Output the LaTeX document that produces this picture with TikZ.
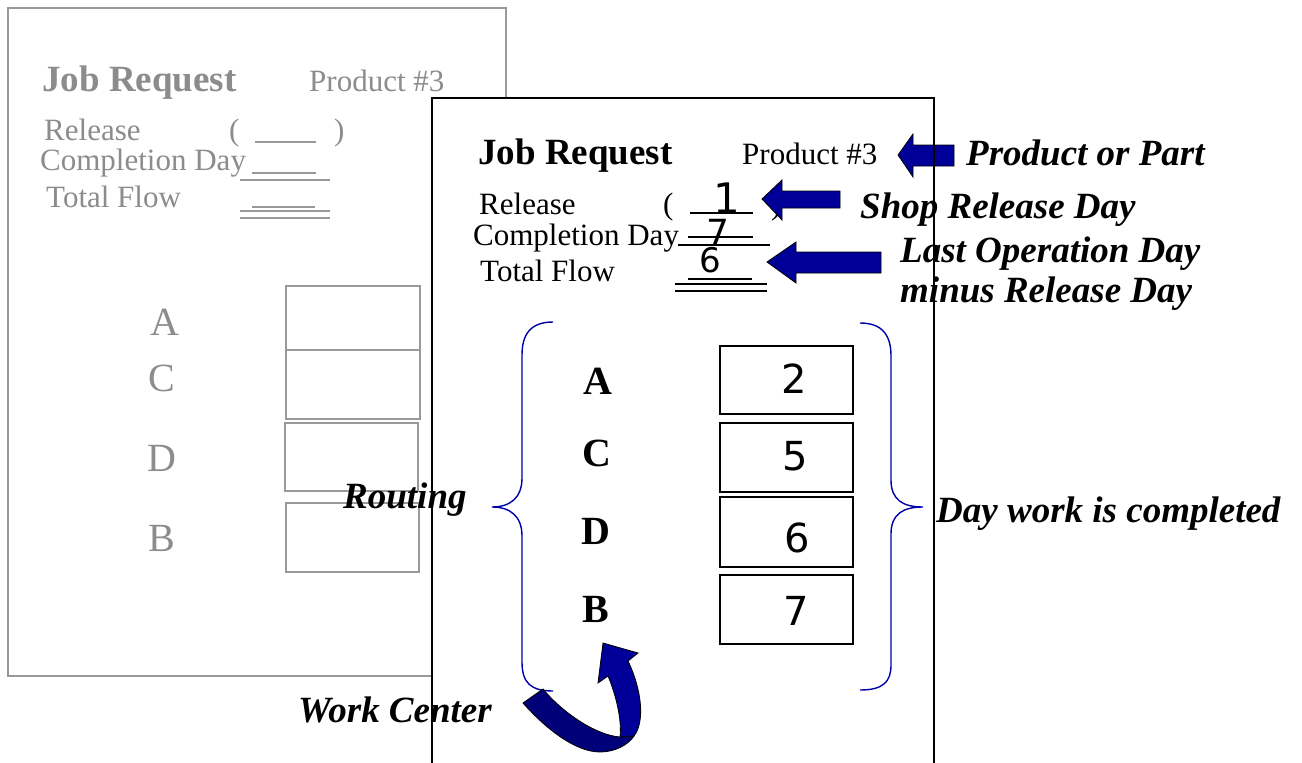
\documentclass[tikz,border=0pt]{standalone}
\usepackage{fontspec}
\setmainfont{Liberation Serif}
\newfontfamily\digitfont{DejaVu Sans}
\definecolor{pagegray}{RGB}{153,153,153}
\definecolor{textgray}{RGB}{140,140,140}
\definecolor{arrowblue}{RGB}{0,0,153}
\definecolor{arrowdark}{RGB}{0,0,120}
\definecolor{bracenavy}{RGB}{0,0,170}
\tikzset{
  txt/.style={inner sep=0pt, anchor=base west},
  hdr/.style={txt, font=\fontsize{37}{37}\selectfont\bfseries},
  fld/.style={txt, font=\fontsize{31}{31}\selectfont},
  note/.style={txt, font=\fontsize{37}{37}\selectfont\bfseries\itshape},
  seqg/.style={inner sep=0pt, font=\fontsize{40}{40}\selectfont, text=textgray},
  seqf/.style={inner sep=0pt, font=\fontsize{40}{40}\selectfont\bfseries},
  dig/.style={inner sep=0pt, anchor=base, font=\digitfont\fontsize{#1}{#1}\selectfont},
  cellg/.style={draw=pagegray, line width=1.5pt},
  cellf/.style={draw=black, line width=1.5pt},
  rule/.style={line width=1.2pt},
  brace/.style={draw=bracenavy, line width=1.4pt},
  blockarrow/.style={fill=arrowblue, draw=black, line width=0.8pt, line join=miter},
}
\begin{document}
\begin{tikzpicture}[x=1pt, y=-1pt]
\useasboundingbox (0,0) rectangle (1302,763);

% ---- sheet underneath (blank form, grey) ----
\draw[pagegray, line width=1.6pt, fill=white] (8,8) rectangle (506,676);
\begin{scope}[text=textgray]
  \node[hdr] (gjob) at (42,91) {Job Request};
  \node[fld] (gprod) at (309,91) {Product \#3};
  \node[fld] (grel) at (44,140) {Release};
  \node[fld] (gcomp) at (40,170) {Completion Day};
  \node[fld] (gtot) at (46,207) {Total Flow};
  \node[fld] (gpl) at (229,140) {(};
  \node[fld] (gpr) at (334,140) {)};
\end{scope}
\begin{scope}[pagegray, rule]
  \draw (255,142) -- (316,142);
  \draw (252,173) -- (316,173);
  \draw (240,180) -- (330,180);
  \draw (252,207) -- (315,207);
  \draw (240,211) -- (330,211);
  \draw (240,218) -- (330,218);
\end{scope}
\node[seqg] (gA) at (165,322) {A};
\node[seqg] (gC) at (162,378) {C};
\node[seqg] (gD) at (162,458) {D};
\node[seqg] (gB) at (162,538) {B};
\draw[cellg] (286,286) rectangle (420,350);
\draw[cellg] (286,350) rectangle (420,419);
\draw[cellg] (285,423) rectangle (418,491);
\draw[cellg] (286,503) rectangle (419,572);

% ---- front sheet (filled-in job request) ----
\fill[white] (432,98) rectangle (934,763);
\node[hdr] (job) at (478,164) {Job Request};
\node[fld] (prod) at (742,164) {Product \#3};
\node[fld] (rel) at (479,214) {Release};
\node[fld] (comp) at (473,245) {Completion Day};
\node[fld] (tot) at (480,281) {Total Flow};
\node[fld] (pl) at (663,214) {(};
\node[fld] (pr) at (771,214) {)};
\node[dig=42] (vrel) at (727,213) {1};
\node[dig=36] (vcomp) at (718,245) {7};
\node[dig=34] (vtot) at (710,272) {6};
\begin{scope}[rule]
  \draw (690,213) -- (753,213);
  \draw (688,237) -- (753,237);
  \draw (678,245) -- (770,245);
  \draw (688,279) -- (752,279);
  \draw (675,284) -- (767,284);
  \draw (675,291) -- (767,291);
\end{scope}

% routing letters and completion days
\node[seqf] (A) at (598,381) {A};
\node[seqf] (C) at (597,453) {C};
\node[seqf] (D) at (596,531) {D};
\node[seqf] (B) at (596,609) {B};
\node[cellf, minimum width=133pt, minimum height=68pt] (c1) at (786.5,380) {};
\node[cellf, minimum width=133pt, minimum height=69pt] (c2) at (786.5,457.5) {};
\node[cellf, minimum width=133pt, minimum height=70pt] (c3) at (786.5,532) {};
\node[cellf, minimum width=133pt, minimum height=69pt] (c4) at (786.5,609.5) {};
\node[dig=40] (d1) at (794,393) {2};
\node[dig=40] (d2) at (795,470) {5};
\node[dig=40] (d3) at (797,552) {6};
\node[dig=40] (d4) at (796,625) {7};

% braces
\draw[brace] (553,322) .. controls (530,322) and (522,335) .. (522,355) -- (522,478)
  .. controls (522,498) and (510,507) .. (492,507)
  .. controls (510,507) and (522,516) .. (522,536) -- (522,662)
  .. controls (522,682) and (530,691) .. (553,691);
\draw[brace] (860,323) .. controls (883,323) and (891,336) .. (891,356) -- (891,480)
  .. controls (891,500) and (903,507) .. (923,507)
  .. controls (903,507) and (891,514) .. (891,534) -- (891,665)
  .. controls (891,682) and (883,690) .. (860,690);

% explanatory notes
\node[note] (nprod) at (966,165) {Product or Part};
\node[note] (nrel) at (860,218) {Shop Release Day};
\node[note] (nlast) at (900,262) {Last Operation Day};
\node[note] (nminus) at (900,302) {minus Release Day};
\node[note] (nday) at (936,522) {Day work is completed};
\node[note] (nrout) at (343,508) {Routing};
\node[note] (nwc) at (298,722) {Work Center};

% block arrows pointing at the fields
\draw[blockarrow] (898,155) -- (913,134) -- (913,145) -- (954,145) -- (954,166) -- (913,166) -- (913,177) -- cycle;
\draw[blockarrow] (762,199) -- (782,180) -- (782,191) -- (840,191) -- (840,208) -- (782,208) -- (782,220) -- cycle;
\draw[blockarrow] (767,262) -- (796,242) -- (796,252) -- (881,252) -- (881,273) -- (796,273) -- (796,283) -- cycle;

% curved arrow pointing at the work centers
\draw[blockarrow, fill=arrowdark] (523,703) .. controls (545,728) and (575,752) .. (600,752)
  .. controls (615,752) and (628,745) .. (634,736)
  -- (620,737) .. controls (595,735) and (562,712) .. (543,689) -- cycle;
\draw[blockarrow] (634,736) .. controls (645,722) and (642,690) .. (628,661)
  -- (638,653) -- (603,643) -- (598,683) -- (608,676)
  .. controls (616,695) and (622,720) .. (620,737) -- cycle;

% front sheet outline, open at the bottom
\draw[line width=1.6pt] (432,763) -- (432,98) -- (934,98) -- (934,763);
\end{tikzpicture}
\end{document}
